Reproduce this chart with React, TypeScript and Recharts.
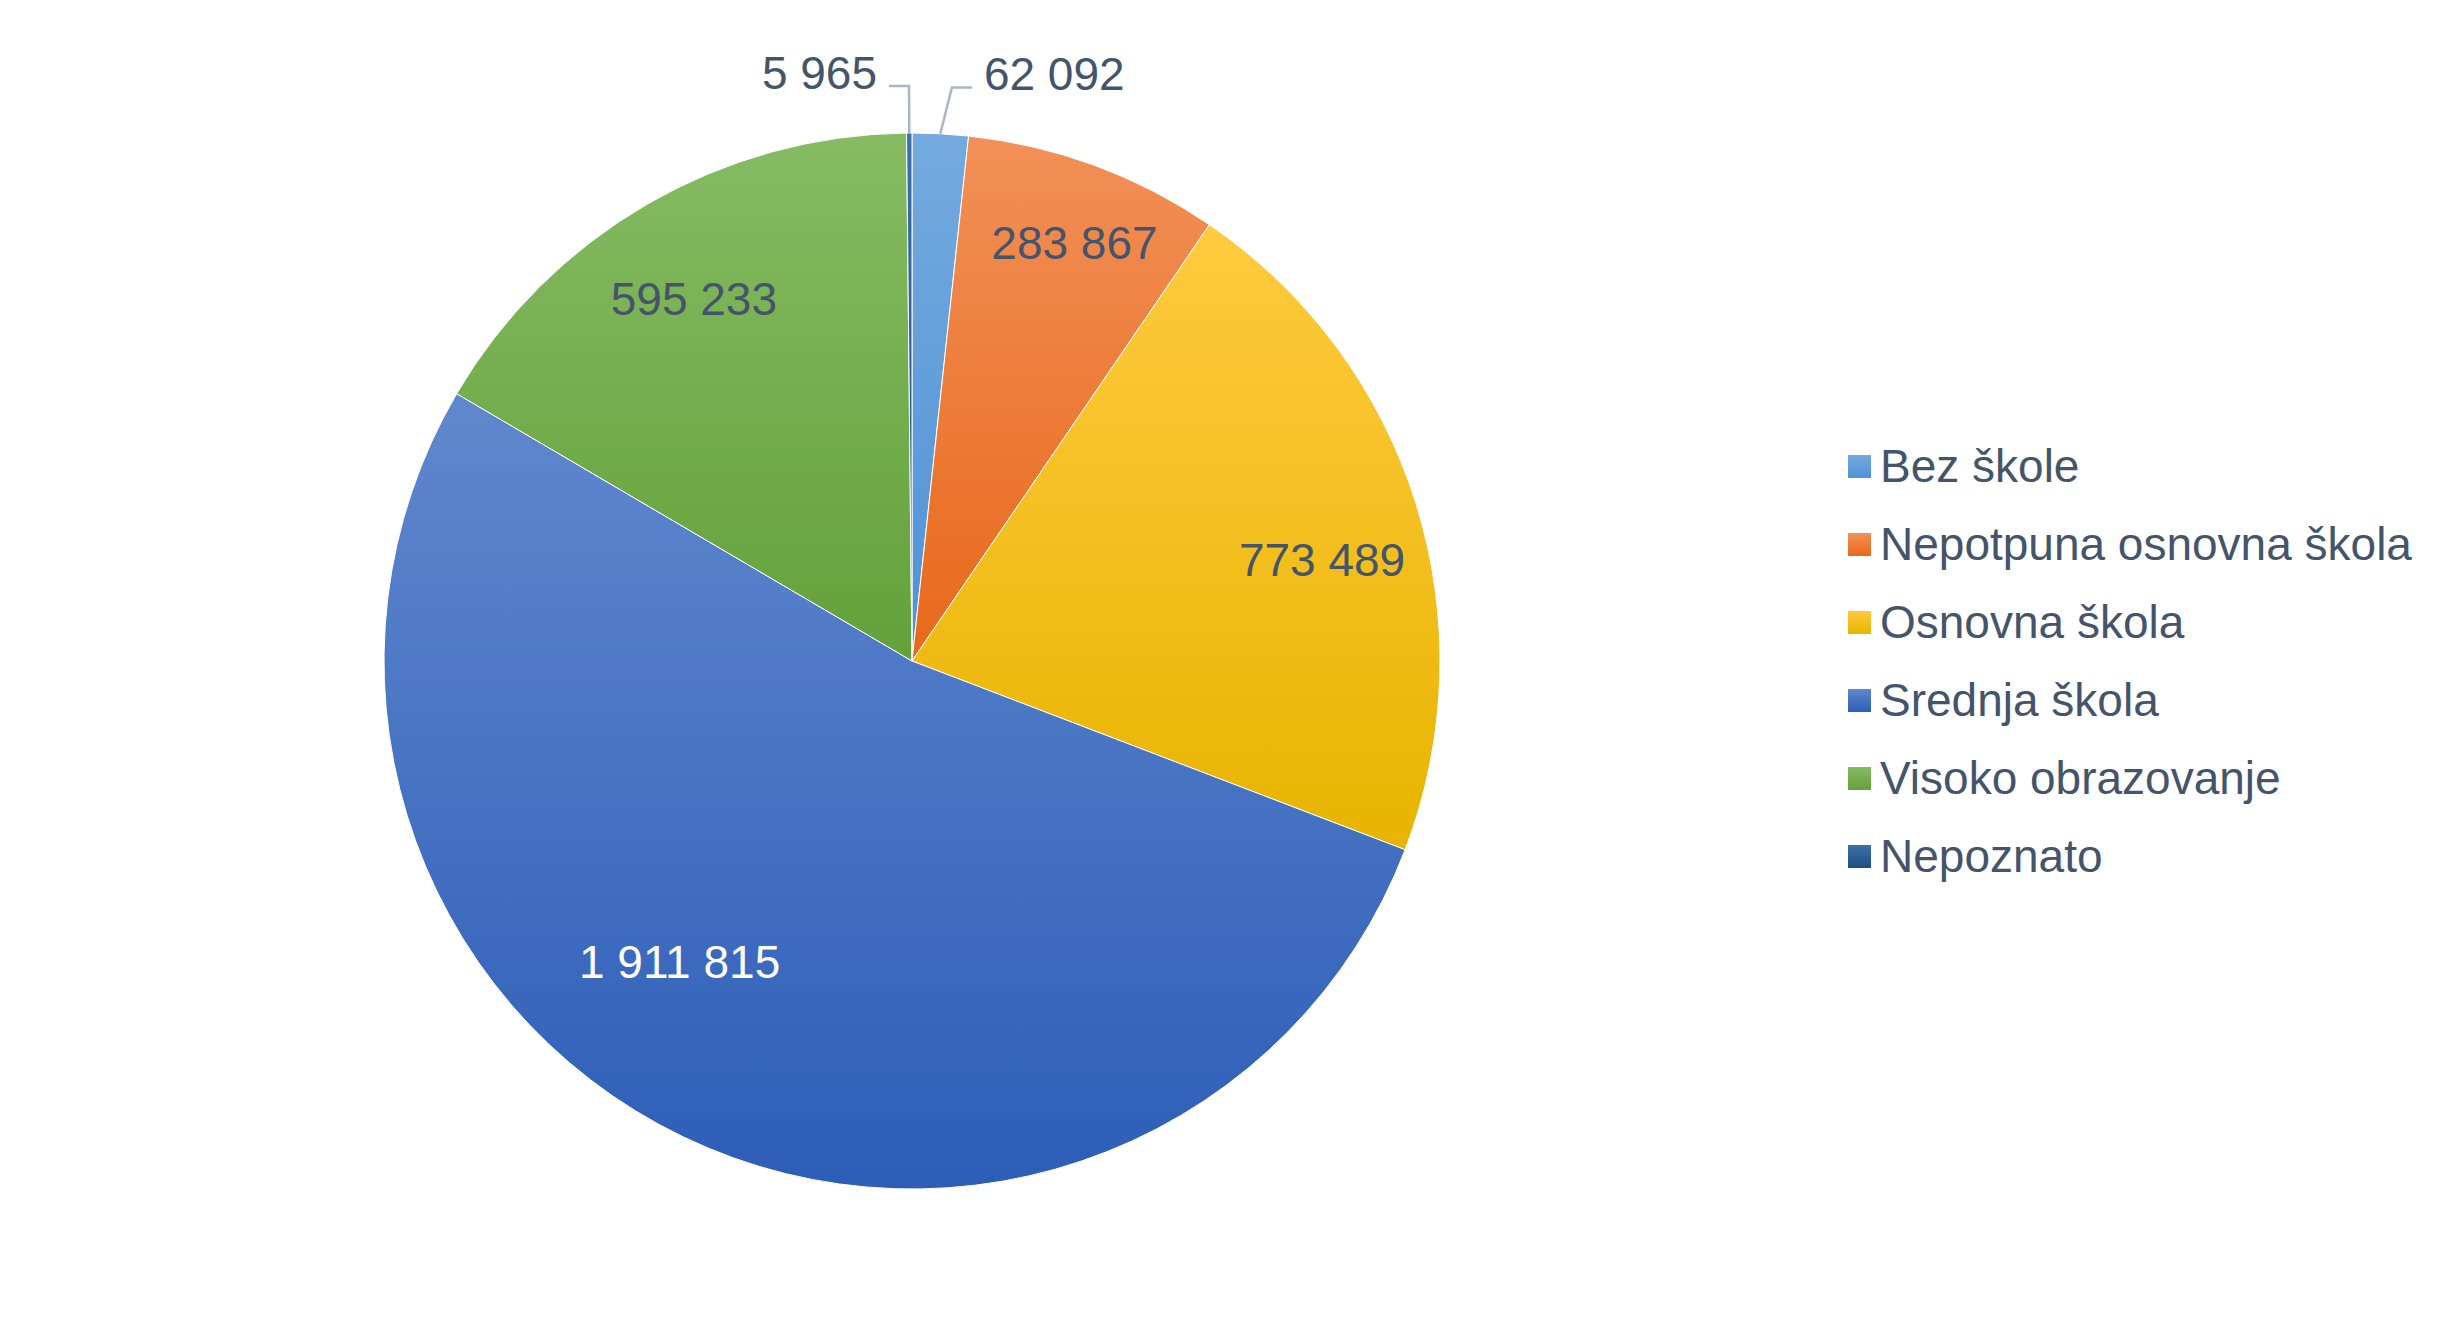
import { Cell, Legend, Pie, PieChart } from "recharts";

const categories = [
  "Bez škole",
  "Nepotpuna osnovna škola",
  "Osnovna škola",
  "Srednja škola",
  "Visoko obrazovanje",
  "Nepoznato",
];
const counts = [62092, 283867, 773489, 1911815, 595233, 5965];

// gradient top / bottom per slice
const topColors = ["#74aade", "#f29058", "#ffca3e", "#6088ce", "#86bb63", "#3c70a8"];
const bottomColors = ["#5092d6", "#e8681a", "#e8b400", "#2d5db7", "#63a139", "#1f4d80"];

const data = categories.map((name, i) => ({ name, value: counts[i] }));

const TEXT = "#44546a";
const FONT = "'Liberation Sans', Arial, sans-serif";
const FS = 46;
const RADIAN = Math.PI / 180;

// Excel "best fit" placement: radius fraction and angle nudge, or outside with leader line
const labelPlace = [
  { outside: true, r: 0, da: -0.9 },
  { outside: false, r: 0.85, da: -1 },
  { outside: false, r: 0.8, da: -3.5 },
  { outside: false, r: 0.72, da: -12 },
  { outside: false, r: 0.8, da: 1 },
  { outside: true, r: 0, da: 0 },
];

const fmt = (n: number) => n.toString().replace(/\B(?=(\d{3})+(?!\d))/g, " ");

const renderLabel = (props: any) => {
  const { cx, cy, midAngle, outerRadius, index, value } = props;
  const place = labelPlace[index];
  if (place.outside) {
    const cos = Math.cos(-midAngle * RADIAN);
    const sin = Math.sin(-midAngle * RADIAN);
    const x0 = cx + outerRadius * cos;
    const y0 = cy + outerRadius * sin;
    const a1 = -(midAngle + place.da) * RADIAN;
    const x1 = cx + (outerRadius + 47) * Math.cos(a1);
    const y1 = cy + (outerRadius + 47) * Math.sin(a1);
    const dir = cos >= 0 ? 1 : -1;
    const x2 = x1 + dir * 20;
    return (
      <g key={`lbl-${index}`}>
        <polyline
          points={`${x0},${y0} ${x1},${y1} ${x2},${y1}`}
          fill="none"
          stroke="#a9b6c8"
          strokeWidth={2.5}
        />
        <text
          x={x2 + dir * 12}
          y={y1 - 13}
          textAnchor={dir > 0 ? "start" : "end"}
          dominantBaseline="central"
          fontSize={FS}
          fontFamily={FONT}
          fill={TEXT}
        >
          {fmt(value)}
        </text>
      </g>
    );
  }
  const ang = (midAngle + place.da) * RADIAN;
  const r = outerRadius * place.r;
  const x = cx + r * Math.cos(-ang);
  const y = cy + r * Math.sin(-ang);
  return (
    <text
      key={`lbl-${index}`}
      x={x}
      y={y}
      textAnchor="middle"
      dominantBaseline="central"
      fontSize={FS}
      fontFamily={FONT}
      fill={index === 3 ? "#ffffff" : TEXT}
    >
      {fmt(value)}
    </text>
  );
};

const renderLegend = (props: any) => {
  const payload = [...(props.payload || [])].sort(
    (a: any, b: any) => categories.indexOf(a.value) - categories.indexOf(b.value)
  );
  return (
    <div style={{ fontFamily: FONT }}>
      {payload.map((entry: any, i: number) => {
        const idx = categories.indexOf(entry.value);
        return (
          <div key={`leg-${i}`} style={{ display: "flex", alignItems: "center", height: 78 }}>
            <svg width={23} height={23} style={{ marginRight: 9, flex: "none" }}>
              <rect width={23} height={23} fill={`url(#grad-${idx})`} />
            </svg>
            <span style={{ fontSize: FS, color: TEXT, lineHeight: 1, whiteSpace: "nowrap" }}>
              {entry.value}
            </span>
          </div>
        );
      })}
    </div>
  );
};

export default function App() {
  return (
    <div style={{ width: 2440, height: 1300, background: "#fff" }}>
      <PieChart width={2440} height={1300} margin={{ top: 0, right: 0, bottom: 0, left: 0 }}>
        <defs>
          {categories.map((_, i) => (
            <linearGradient key={i} id={`grad-${i}`} x1="0" y1="0" x2="0" y2="1">
              <stop offset="0%" stopColor={topColors[i]} />
              <stop offset="100%" stopColor={bottomColors[i]} />
            </linearGradient>
          ))}
        </defs>
        <Pie
          data={data}
          dataKey="value"
          nameKey="name"
          cx={904}
          cy={653}
          outerRadius={528}
          startAngle={90}
          endAngle={-270}
          stroke="#ffffff"
          strokeWidth={1}
          label={renderLabel}
          labelLine={false}
          isAnimationActive={false}
        >
          {data.map((_, i) => (
            <Cell key={i} fill={`url(#grad-${i})`} />
          ))}
        </Pie>
        <Legend
          layout="vertical"
          align="right"
          verticalAlign="top"
          content={renderLegend}
          wrapperStyle={{ left: 1840, top: 419, width: 600, right: "auto", bottom: "auto" }}
        />
      </PieChart>
    </div>
  );
}
